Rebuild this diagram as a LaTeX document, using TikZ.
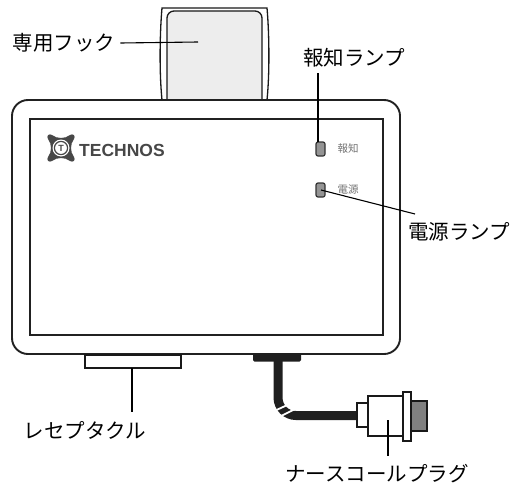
\documentclass[tikz,border=0pt]{standalone}
\usepackage{fontspec}
\setmainfont{Liberation Sans}
\newfontfamily\jpfont{Noto Sans CJK JP}
\newfontfamily\brandfont{Liberation Sans}
\begin{document}
\begin{tikzpicture}[x=1pt,y=-1pt,
  outline/.style={draw=black!87,line width=1.9pt},
  thin/.style={draw=black!90,line width=1.3pt},
  leader/.style={draw=black,line width=1.1pt},
  callout/.style={font=\jpfont\fontsize{20.5}{20.5}\selectfont,inner sep=0pt,anchor=center},
  tag/.style={font=\jpfont\fontsize{10.5}{10.5}\selectfont,text=black!55,inner sep=0pt},
  lamp/.style={draw=black!80,line width=1.2pt,fill=black!42,rounded corners=2pt},
  logo/.style={fill=black!72}]
\useasboundingbox (0,0) rectangle (518,487);

% ---- wall hook on top of the housing
\path[thin,fill=white] (162,100) .. controls (159,70) and (160,30) .. (162,8)
  -- (267,8) .. controls (269,30) and (270,70) .. (267,100);
\path[thin,fill=black!7,rounded corners=7pt] (167,101) -- (167,11) -- (262,11) -- (262,101);

% ---- housing
\path[outline,fill=white,rounded corners=16pt] (12,100) rectangle (400,354);
\path[outline] (30,119) rectangle (383,335);

% ---- brand mark
\fill[logo] (52,135) .. controls (57,139) and (65,139) .. (70,135)
  .. controls (73,133) and (76,136) .. (74,139)
  .. controls (70,144) and (70,152) .. (74,157)
  .. controls (76,160) and (73,163) .. (70,161)
  .. controls (65,157) and (57,157) .. (52,161)
  .. controls (49,163) and (46,160) .. (48,157)
  .. controls (52,152) and (52,144) .. (48,139)
  .. controls (46,136) and (49,133) .. (52,135) -- cycle;
\fill[white] (61,148) circle (8.5);
\draw[black!72,line width=1.2pt] (61,148) circle (6.6);
\node[inner sep=0pt,text=black!72,font=\brandfont\bfseries\fontsize{9}{9}\selectfont] (logoT) at (61,148.5) {T};
\node[anchor=west,inner sep=0pt,text=black!72,font=\brandfont\bfseries\fontsize{17.5}{17.5}\selectfont] (brand) at (79,150) {TECHNOS};

% ---- indicator lamps
\path[lamp] (316,142) rectangle (325,156);
\coordinate (lampA) at (318,142);
\node[tag] (tagA) at (348,149) {報知};
\path[lamp] (316,183) rectangle (325,197);
\coordinate (lampB) at (321,190);
\node[tag] (tagB) at (348,190) {電源};

% ---- receptacle
\path[thin,fill=white] (85,355) rectangle (181,368);
\coordinate (recept) at (132,368);

% ---- nurse-call cable and plug
\path[fill=black!88,rounded corners=1.5pt] (253,353) -- (301,353) -- (301,361.5) -- (253,361.5) -- cycle;
\draw[black!88,line width=9pt,rounded corners=18pt] (278,358) |- (358,415.5);
\draw[white,line width=1.8pt] (276.5,410) -- (290.5,403.5);
\draw[white,line width=1.8pt] (281,416) -- (295,409);
\path[thin,fill=white] (357,403) rectangle (368,427);
\path[thin,fill=white] (368,396) rectangle (403,436);
\path[thin,fill=white] (403,392) rectangle (411,441);
\path[thin,fill=black!50] (411,401) rectangle (427,431);
\coordinate (plug) at (388,420);

% ---- callouts
\coordinate (hook) at (198,42);
\node[callout] (lblHook) at (64,43) {専用フック};
\draw[leader] (lblHook.east) ++(5,0) coordinate (hookStart) (hookStart) -- (hook);

\node[callout] (lblAlarm) at (354,58) {報知ランプ};
\coordinate (alarmTop) at (318,73);
\draw[leader] (alarmTop) -- (lampA);

\node[callout] (lblPower) at (459,232) {電源ランプ};
\coordinate (powerEnd) at (415,214);
\draw[leader] (lampB) -- (powerEnd);

\node[callout] (lblRecept) at (85,430) {レセプタクル};
\coordinate (receptEnd) at (132,412);
\draw[leader] (recept) -- (receptEnd);

\node[callout] (lblPlug) at (377,474) {ナースコールプラグ};
\coordinate (plugEnd) at (388,456);
\draw[leader] (plug) -- (plugEnd);
\end{tikzpicture}
\end{document}
